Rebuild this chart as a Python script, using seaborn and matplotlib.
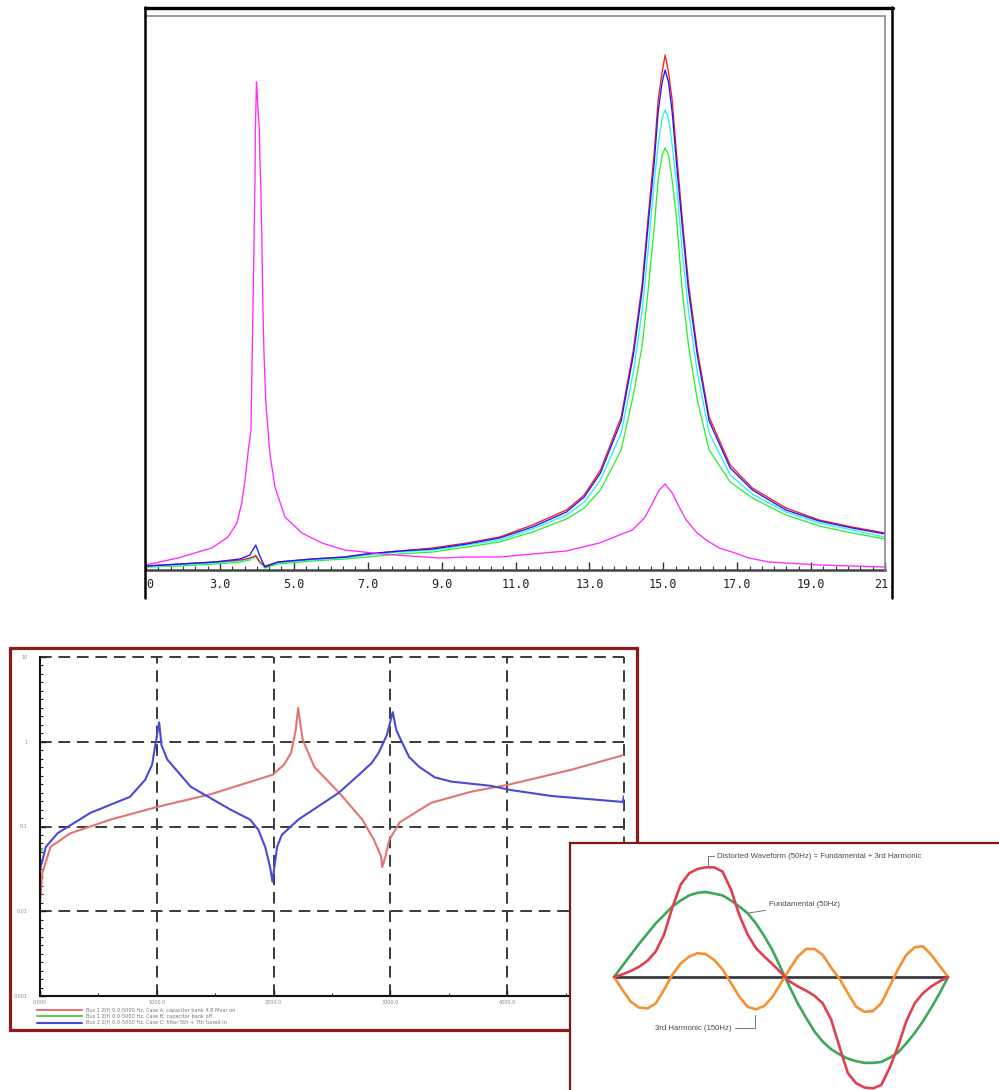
import seaborn as sns
import matplotlib
matplotlib.use("Agg")
from matplotlib import pyplot as plt
from matplotlib.lines import Line2D
from matplotlib.patches import Rectangle
from matplotlib.ticker import MultipleLocator

sns.set_style("white")
plt.rcParams['font.family'] = ['DejaVu Sans']

# ---- top panel: harmonic scan (x = harmonic order) ----
scan_order = [1.0, 1.92, 2.86, 3.54, 3.81, 3.97, 4.08, 4.22, 4.57, 5.49,
              6.38, 6.97, 7.86, 8.76, 9.68, 10.57, 11.46, 12.38, 12.86, 13.30,
              13.86, 14.19, 14.43, 14.59, 14.76, 14.86, 14.97, 15.05, 15.14, 15.24,
              15.35, 15.51, 15.68, 15.92, 16.24, 16.81, 17.41, 18.32, 19.22, 20.11, 21.0]
scan_red = [0.4, 0.8, 1.2, 1.6, 2.0, 2.4, 1.2, 0.4, 1.2, 1.8,
            2.2, 2.8, 3.4, 4.0, 5.0, 6.2, 8.6, 11.6, 14.6, 19.6,
            30.2, 43.6, 57.0, 70.2, 83.6, 93.6, 99.2, 102.6, 99.2, 93.6,
            83.6, 70.2, 57.0, 43.6, 30.2, 20.6, 16.0, 12.0, 9.6, 8.2, 7.0]
scan_blue = [0.4, 0.8, 1.2, 1.8, 2.6, 4.6, 2.4, 0.2, 1.2, 1.8,
             2.2, 2.8, 3.4, 3.8, 4.8, 6.0, 8.2, 11.2, 14.2, 19.0,
             29.4, 42.6, 55.6, 68.6, 81.6, 91.2, 97.2, 99.6, 97.2, 91.2,
             81.6, 68.6, 55.6, 42.6, 29.4, 20.0, 15.6, 11.6, 9.4, 8.0, 6.8]
scan_cyan = [0.2, 0.6, 1.0, 1.4, 1.8, 2.2, 1.0, 0.4, 1.0, 1.6,
             2.0, 2.6, 3.2, 3.6, 4.6, 5.6, 7.8, 10.6, 13.2, 17.6,
             27.0, 39.2, 51.6, 63.6, 77.6, 84.6, 90.0, 91.6, 90.0, 84.6,
             77.6, 63.6, 51.6, 39.2, 27.0, 18.6, 14.8, 11.2, 9.0, 7.6, 6.2]
scan_green = [0.2, 0.4, 0.8, 1.2, 1.6, 2.6, 1.2, 0.0, 0.8, 1.4,
              1.8, 2.2, 2.8, 3.2, 4.2, 5.2, 7.2, 9.8, 12.0, 15.6,
              23.6, 34.6, 44.6, 55.6, 68.6, 77.6, 82.6, 84.0, 82.6, 77.6,
              70.6, 55.6, 44.6, 33.6, 23.6, 17.2, 14.0, 10.6, 8.4, 7.0, 5.8]
mag_order = [1.0, 1.86, 2.78, 3.22, 3.46, 3.59, 3.68, 3.76, 3.84, 3.89,
             3.92, 3.95, 3.96, 3.99, 4.01, 4.04, 4.07, 4.08, 4.11, 4.14,
             4.16, 4.19, 4.24, 4.30, 4.35, 4.49, 4.76, 5.22, 5.76, 6.38,
             7.41, 8.14, 8.95, 9.68, 10.57, 11.46, 12.38, 13.27, 13.81, 14.16,
             14.49, 14.68, 14.89, 15.05, 15.24, 15.43, 15.62, 15.89, 16.16, 16.51,
             16.86, 17.32, 17.86, 19.22, 21.0]
mag_level = [0.6, 2.0, 4.0, 6.2, 9.0, 13.0, 17.6, 23.0, 27.6, 49.6,
             63.6, 77.6, 87.6, 97.2, 94.6, 90.6, 87.6, 82.6, 75.6, 63.6,
             53.6, 43.6, 33.6, 27.6, 23.0, 16.2, 10.2, 7.0, 5.0, 3.6,
             2.8, 2.4, 2.0, 2.2, 2.2, 2.8, 3.4, 5.0, 6.6, 7.6,
             10.0, 12.6, 15.6, 16.8, 15.0, 12.2, 9.6, 7.2, 5.6, 4.0,
             3.2, 2.0, 1.2, 0.6, 0.2]
order_ticks = [1, 3, 5, 7, 9, 11, 13, 15, 17, 19, 21]
order_labels = ['0', '3.0', '5.0', '7.0', '9.0', '11.0', '13.0', '15.0', '17.0', '19.0', '21.']

# ---- bottom left: frequency scan ----
blue_f = [0.00, 0.05, 0.15, 0.43, 0.77, 0.90, 0.96, 0.98, 1.02, 1.04,
          1.09, 1.29, 1.63, 1.80, 1.87, 1.93, 1.97, 1.99, 2.03, 2.07,
          2.21, 2.56, 2.73, 2.84, 2.90, 2.97, 3.02, 3.05, 3.09, 3.16,
          3.25, 3.38, 3.52, 3.86, 4.03, 4.38, 4.99, 5.00, 5.00]
blue_z = [1.49, 1.76, 1.92, 2.16, 2.35, 2.55, 2.73, 2.90, 3.23, 2.96,
          2.79, 2.47, 2.20, 2.08, 1.96, 1.75, 1.52, 1.35, 1.76, 1.90,
          2.08, 2.40, 2.61, 2.75, 2.87, 3.08, 3.35, 3.14, 3.02, 2.82,
          2.70, 2.58, 2.53, 2.48, 2.43, 2.36, 2.29, 2.36, 2.22]
red_f = [0.00, 0.00, 0.02, 0.09, 0.26, 0.60, 1.00, 1.46, 1.99, 2.09,
         2.15, 2.19, 2.21, 2.23, 2.25, 2.35, 2.56, 2.76, 2.86, 2.92,
         2.93, 2.96, 2.99, 3.08, 3.35, 3.69, 4.00, 4.55, 4.99]
red_z = [0.63, 1.10, 1.45, 1.76, 1.92, 2.08, 2.23, 2.38, 2.61, 2.73,
         2.87, 3.14, 3.40, 3.20, 3.02, 2.70, 2.40, 2.08, 1.84, 1.65,
         1.52, 1.66, 1.84, 2.05, 2.28, 2.41, 2.49, 2.67, 2.84]
green_f = [0.0, 0.0, 0.02]
green_z = [2.11, 1.69, 1.74]
freq_labels = ['0.000', '1000.0', '2000.0', '3000.0', '4000.0', '5000.0']
z_labels = ['0.001', '0.01', '0.1', '1', '10']
legend_labels = ['Bus 1 Z(f) 0.0-5000 Hz, Case A: capacitor bank 4.8 Mvar on',
                 'Bus 1 Z(f) 0.0-5000 Hz, Case B: capacitor bank off',
                 'Bus 2 Z(f) 0.0-5000 Hz, Case C: filter 5th + 7th tuned in']

# ---- bottom right: waveforms, one fundamental cycle ----
phase_deg = [0, 9, 18, 27, 36, 45, 54, 63, 72, 81,
             90, 99, 108, 117, 126, 135, 144, 153, 162, 171,
             180, 189, 198, 207, 216, 225, 234, 243, 252, 261,
             270, 279, 288, 297, 306, 315, 324, 333, 342, 351, 360]
wave_fund = [0, 0.13, 0.26, 0.39, 0.51, 0.63, 0.73, 0.83, 0.90, 0.96,
             0.99, 1.00, 0.98, 0.96, 0.90, 0.83, 0.75, 0.63, 0.48, 0.31,
             0.10, -0.11, -0.31, -0.48, -0.64, -0.76, -0.85, -0.91, -0.96, -0.99,
             -1.01, -1.01, -1.00, -0.95, -0.89, -0.78, -0.66, -0.52, -0.36, -0.19, 0.0]
wave_dist = [0, 0.03, 0.07, 0.12, 0.19, 0.30, 0.50, 0.82, 1.09, 1.22,
             1.27, 1.29, 1.29, 1.24, 1.03, 0.73, 0.50, 0.34, 0.24, 0.15,
             0.05, -0.05, -0.11, -0.16, -0.22, -0.31, -0.50, -0.82, -1.13, -1.25,
             -1.30, -1.31, -1.27, -1.07, -0.82, -0.52, -0.31, -0.19, -0.11, -0.05, 0.0]
wave_h3 = [0, -0.15, -0.29, -0.36, -0.37, -0.31, -0.15, 0.03, 0.16, 0.24,
           0.28, 0.27, 0.20, 0.09, -0.07, -0.23, -0.35, -0.38, -0.34, -0.23,
           -0.07, 0.09, 0.24, 0.33, 0.33, 0.26, 0.11, -0.02, -0.19, -0.35,
           -0.41, -0.40, -0.31, -0.11, 0.09, 0.26, 0.35, 0.36, 0.26, 0.13, 0.0]

W, H = 999, 1090
fig = plt.figure(figsize=(W / 100, H / 100), dpi=100)


def box(left, top, right, bottom):
    # pixel box -> figure fraction rect
    return [left / W, 1 - bottom / H, (right - left) / W, (bottom - top) / H]


def fig_line(x0, y0, x1, y1, **kw):
    fig.add_artist(Line2D([x0 / W, x1 / W], [1 - y0 / H, 1 - y1 / H],
                          transform=fig.transFigure, **kw))


# top panel
ax1 = fig.add_axes(box(146, 16, 885, 570))
for vals, col in [(scan_green, '#2ef02e'), (scan_cyan, '#30eef0'),
                  (scan_red, '#ff1a1a'), (scan_blue, '#1a1aff')]:
    sns.lineplot(x=scan_order, y=vals, ax=ax1, color=col, linewidth=0.95,
                 estimator=None, sort=False)
sns.lineplot(x=mag_order, y=mag_level, ax=ax1, color='#ff2aff', linewidth=0.95,
             estimator=None, sort=False)
ax1.set_xlim(1, 21)
ax1.set_ylim(-0.4, 110.4)
ax1.set_xticks(order_ticks)
ax1.set_xticklabels(order_labels, family='DejaVu Sans Mono', fontsize=8.5, color='#222')
ax1.get_xticklabels()[0].set_horizontalalignment('left')
ax1.xaxis.set_minor_locator(MultipleLocator(1 / 3))
ax1.tick_params(axis='x', which='major', direction='in', length=6, width=1, pad=6,
                bottom=True, color='#333')
ax1.tick_params(axis='x', which='minor', direction='in', length=3, width=0.8,
                bottom=True, color='#333')
ax1.set_yticks([])
ax1.set_xlabel('')
ax1.set_ylabel('')
for s in ['left', 'top', 'right']:
    ax1.spines[s].set_visible(False)
ax1.spines['bottom'].set_linewidth(1.8)
ax1.spines['bottom'].set_color('#444')

# frame around the top panel
fig_line(145, 8, 893, 8, color='black', linewidth=2.4)
fig_line(145, 16, 885, 16, color='#8a8a8a', linewidth=1.2)
fig_line(145, 7, 145, 598, color='black', linewidth=1.8)
fig_line(885, 16, 885, 570, color='#8a8a8a', linewidth=1.2)
fig_line(892, 7, 892, 598, color='black', linewidth=1.8)

# bottom left panel
ax2 = fig.add_axes(box(40, 657, 624, 996))
sns.lineplot(x=red_f, y=red_z, ax=ax2, color='#e27474', linewidth=1.5,
             estimator=None, sort=False, label=legend_labels[0])
sns.lineplot(x=green_f, y=green_z, ax=ax2, color='#5cc85c', linewidth=1.5,
             estimator=None, sort=False, label=legend_labels[1])
sns.lineplot(x=blue_f, y=blue_z, ax=ax2, color='#4a4ad6', linewidth=1.5,
             estimator=None, sort=False, label=legend_labels[2])
ax2.set_xlim(0, 5)
ax2.set_ylim(0, 4)
ax2.set_xticks(range(6))
ax2.set_xticklabels(freq_labels, fontsize=3.5, color='#888')
ax2.set_yticks(range(5))
ax2.set_yticklabels(z_labels, fontsize=3.5, color='#888')
ax2.xaxis.set_minor_locator(MultipleLocator(0.5))
ax2.yaxis.set_minor_locator(MultipleLocator(0.1))
ax2.tick_params(which='major', direction='in', length=4, width=1, pad=3,
                left=True, bottom=True, color='#222')
ax2.tick_params(which='minor', direction='in', length=2, width=0.8,
                left=True, bottom=True, color='#222')
ax2.tick_params(axis='y', pad=9)
ax2.grid(True, which='major', color='#3a3a3a', linestyle=(0, (6, 3.5)), linewidth=1.4)
for gl in ax2.get_xgridlines() + ax2.get_ygridlines():
    gl.set_clip_on(False)
ax2.set_xlabel('')
ax2.set_ylabel('')
for s in ['top', 'right']:
    ax2.spines[s].set_visible(False)
for s in ['left', 'bottom']:
    ax2.spines[s].set_linewidth(1.5)
    ax2.spines[s].set_color('#111')
ax2.legend(loc='upper left', bbox_to_anchor=(-0.005, -0.035), frameon=False,
           fontsize=3.6, handlelength=9, handletextpad=0.8, labelspacing=0.25,
           borderpad=0, borderaxespad=0, labelcolor='#777')

fig.add_artist(Rectangle((10 / W, 1 - 1030 / H), 627 / W, 382 / H,
                         transform=fig.transFigure, fill=False,
                         edgecolor='#8e1b1b', linewidth=2.3, zorder=3))

# bottom right panel, drawn over the left one
ax3 = fig.add_axes(box(570, 843, 999, 1090))
ax3.set_zorder(5)
ax3.set_facecolor('white')
ax3.hlines(0, phase_deg[0], phase_deg[-1], color='#3c3c3c', linewidth=2)
sns.lineplot(x=phase_deg, y=wave_fund, ax=ax3, color='#3da85c', linewidth=1.9,
             estimator=None, sort=False)
sns.lineplot(x=phase_deg, y=wave_h3, ax=ax3, color='#f5922f', linewidth=1.9,
             estimator=None, sort=False)
sns.lineplot(x=phase_deg, y=wave_dist, ax=ax3, color='#e0404f', linewidth=1.9,
             estimator=None, sort=False)
ax3.set_xlim(-47.4, 414.9)
ax3.set_ylim(-1.329, 1.576)
ax3.set_xticks([])
ax3.set_yticks([])
ax3.set_xlabel('')
ax3.set_ylabel('')
for s in ['right', 'bottom']:
    ax3.spines[s].set_visible(False)
for s in ['left', 'top']:
    ax3.spines[s].set_color('#7e1616')
    ax3.spines[s].set_linewidth(1.6)

note = dict(fontsize=5.6, color='#4a4a4a', family='Liberation Sans', va='center', ha='left')
lead = dict(arrowstyle='-', color='#777', linewidth=0.7, shrinkA=0, shrinkB=0)
ax3.annotate('Distorted Waveform (50Hz) = Fundamental + 3rd Harmonic',
             xy=(101, 1.29), xytext=(111, 1.42),
             arrowprops=dict(lead, connectionstyle='angle,angleA=0,angleB=90,rad=0'), **note)
ax3.annotate('Fundamental (50Hz)', xy=(143, 0.75), xytext=(167, 0.85),
             arrowprops=lead, **note)
ax3.annotate('3rd Harmonic (150Hz)', xy=(152, -0.45), xytext=(44, -0.60),
             arrowprops=dict(lead, connectionstyle='angle,angleA=0,angleB=90,rad=0'), **note)

fig.savefig('out.png', dpi=100)
